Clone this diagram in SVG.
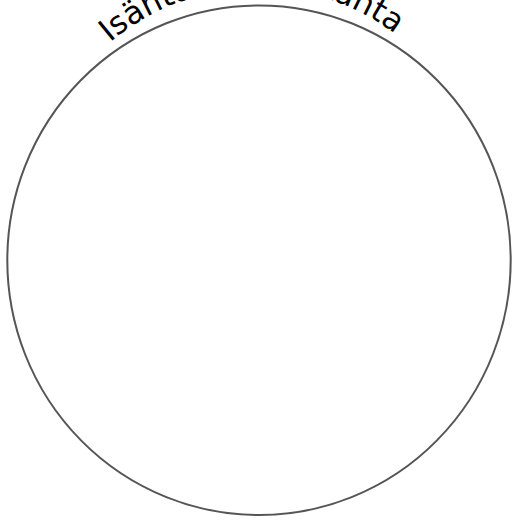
<svg xmlns="http://www.w3.org/2000/svg" width="520" height="521" viewBox="0 0 520 521">
<style>
.ring{fill:#ffffff;stroke:#555555;stroke-width:2}
.lbl{font-family:"DejaVu Sans","Noto Sans",sans-serif;font-size:31.5px;fill:#000000}
</style>
<defs>
<path id="arc" d="M 30 216 A 228 228 0 0 1 486 216"/>
</defs>
<rect width="520" height="521" fill="#ffffff"/>
<g id="circle">
<ellipse class="ring" cx="259" cy="260.2" rx="251.7" ry="254.8"/>
<text class="lbl"><textPath href="#arc" startOffset="197" text-anchor="start">Isäntäsolujen kanta</textPath></text>
</g>
</svg>
